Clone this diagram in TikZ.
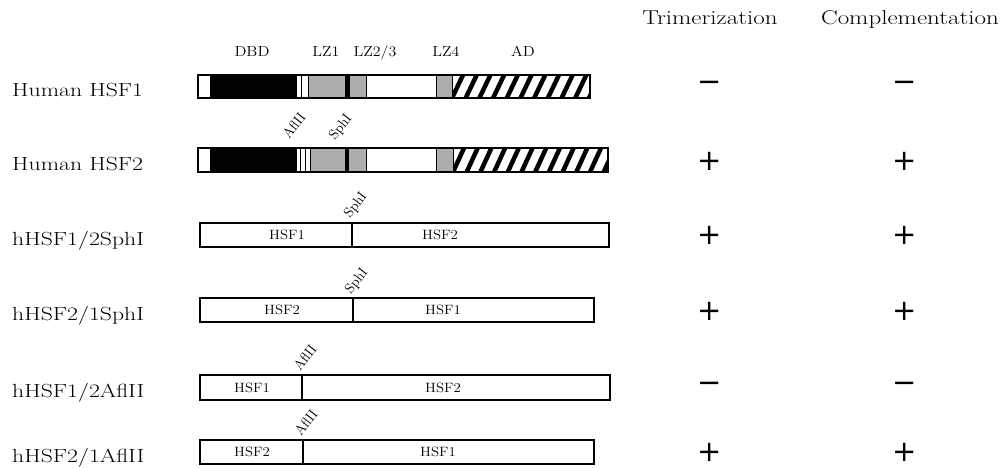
\documentclass[tikz,border=0pt]{standalone}
\usepackage{fontspec}
\usepackage{graphicx}
\newfontfamily\symfont{DejaVu Sans}
\newcommand\sx[2]{\scalebox{#1}[1]{#2}}
\begin{document}
\begin{tikzpicture}[x=1pt,y=-1pt,
  lab/.style={anchor=base west, inner sep=0pt, font=\fontsize{19}{22}\selectfont},
  hdr/.style={anchor=base, inner sep=0pt, font=\fontsize{20}{22}\selectfont},
  dom/.style={anchor=base, inner sep=0pt, font=\fontsize{14.5}{16}\selectfont},
  inbox/.style={inner sep=0pt, font=\fontsize{13.5}{15}\selectfont},
  cut/.style={anchor=base west, inner sep=0pt, rotate=52, font=\fontsize{14}{16}\selectfont},
  sym/.style={inner sep=0pt, font=\symfont\fontsize{29}{31}\selectfont},
  outer/.style={draw=black, line width=1.3pt},
  stip/.style={fill=black!32, draw=black, line width=0.9pt},
  thinl/.style={line width=0.8pt},
  junc/.style={line width=2.2pt},
  hatch/.style={line width=4.5pt}
]
\useasboundingbox (0,0) rectangle (1006,467);

% headers
\node[hdr] (htri) at (710,24) {\sx{1.25}{Trimerization}};
\node[hdr] (hcomp) at (910,24) {\sx{1.25}{Complementation}};

% domain labels
\node[dom] (dbd) at (252,56) {\sx{1.1}{DBD}};
\node[dom] (lz1) at (326,56) {\sx{1.1}{LZ1}};
\node[dom] (lz23) at (375,56) {\sx{1.1}{LZ2/3}};
\node[dom] (lz4) at (446,56) {\sx{1.1}{LZ4}};
\node[dom] (ad) at (523,56) {\sx{1.1}{AD}};

% row labels
\node[lab] (l1) at (12,96) {\sx{1.25}{Human HSF1}};
\node[lab] (l2) at (12,170) {\sx{1.25}{Human HSF2}};
\node[lab] (l3) at (12,245) {\sx{1.25}{hHSF1/2SphI}};
\node[lab] (l4) at (12,320) {\sx{1.25}{hHSF2/1SphI}};
\node[lab] (l5) at (12,397) {\sx{1.25}{hHSF1/2AflII}};
\node[lab] (l6) at (12,462) {\sx{1.25}{hHSF2/1AflII}};

% ---- Row 1: Human HSF1 ----
\fill (210,75) rectangle (297,98);
\draw[thinl] (301,75) -- (301,98);
\filldraw[stip] (308,75) rectangle (345,98);
\fill (345,75) rectangle (349,98);
\filldraw[stip] (349,75) rectangle (366,98);
\filldraw[stip] (436,75) rectangle (452,98);
\begin{scope}
  \clip (452,75) rectangle (590,98);
  \foreach \i in {-2,...,12} \draw[hatch] ({452+\i*13.7},98) -- ++(11,-23);
\end{scope}
\draw[outer] (198,75) rectangle (590,98);
\draw[thinl] (452,75) -- (452,98);

% ---- Row 2: Human HSF2 ----
\fill (210,148) rectangle (297,172);
\draw[thinl] (300,148) -- (300,172);
\draw[thinl] (305,148) -- (305,172);
\filldraw[stip] (310,148) rectangle (345,172);
\fill (345,148) rectangle (348,172);
\filldraw[stip] (348,148) rectangle (366,172);
\filldraw[stip] (436,148) rectangle (453,172);
\begin{scope}
  \clip (453,148) rectangle (608,172);
  \foreach \i in {-2,...,13} \draw[hatch] ({453+\i*13.7},172) -- ++(11,-24);
\end{scope}
\draw[outer] (198,148) rectangle (608,172);
\draw[thinl] (453,148) -- (453,172);
\node[cut] (afl2) at (289,140) {AflII};
\node[cut] (sph2) at (335,141) {SphI};

% ---- Row 3: hHSF1/2SphI ----
\draw[outer] (200,223) rectangle (609,247);
\coordinate (j3t) at (352,223);
\coordinate (j3b) at (352,247);
\draw[junc] (j3t) -- (j3b);
\node[inbox] (r3a) at (287,235) {\sx{1.1}{HSF1}};
\node[inbox] (r3b) at (440,235) {\sx{1.1}{HSF2}};
\node[cut] (sph3) at (350,219) {SphI};

% ---- Row 4: hHSF2/1SphI ----
\draw[outer] (200,298) rectangle (594,322);
\coordinate (j4t) at (353,298);
\coordinate (j4b) at (353,322);
\draw[junc] (j4t) -- (j4b);
\node[inbox] (r4a) at (282,310) {\sx{1.1}{HSF2}};
\node[inbox] (r4b) at (443,310) {\sx{1.1}{HSF1}};
\node[cut] (sph4) at (351,295) {SphI};

% ---- Row 5: hHSF1/2AflII ----
\draw[outer] (200,375) rectangle (610,400);
\coordinate (j5t) at (302,375);
\coordinate (j5b) at (302,400);
\draw[junc] (j5t) -- (j5b);
\node[inbox] (r5a) at (252,387.5) {\sx{1.1}{HSF1}};
\node[inbox] (r5b) at (443,387.5) {\sx{1.1}{HSF2}};
\node[cut] (afl5) at (300,372) {AflII};

% ---- Row 6: hHSF2/1AflII ----
\draw[outer] (200,440) rectangle (594,464);
\coordinate (j6t) at (303,440);
\coordinate (j6b) at (303,464);
\draw[junc] (j6t) -- (j6b);
\node[inbox] (r6a) at (252,452) {\sx{1.1}{HSF2}};
\node[inbox] (r6b) at (438,452) {\sx{1.1}{HSF1}};
\node[cut] (afl6) at (301,437) {AflII};

% results
\node[sym] (t1) at (710,86) {−};
\node[sym] (c1) at (905,86) {−};
\node[sym] (t2) at (710,161) {+};
\node[sym] (c2) at (905,161) {+};
\node[sym] (t3) at (710,235) {+};
\node[sym] (c3) at (905,235) {+};
\node[sym] (t4) at (710,311) {+};
\node[sym] (c4) at (905,311) {+};
\node[sym] (t5) at (710,387) {−};
\node[sym] (c5) at (905,387) {−};
\node[sym] (t6) at (710,452) {+};
\node[sym] (c6) at (905,452) {+};
\end{tikzpicture}
\end{document}
